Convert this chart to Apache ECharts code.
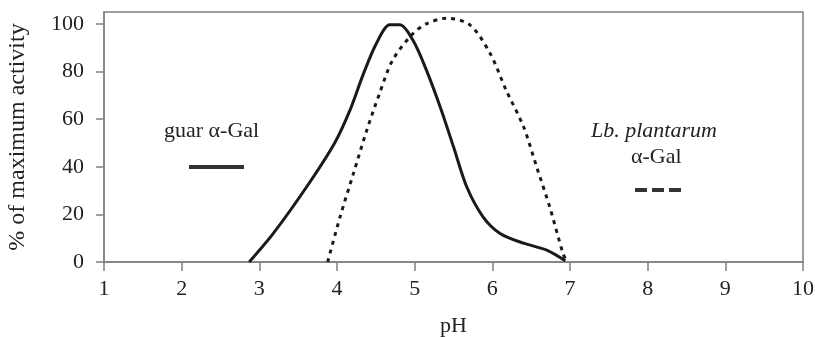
<!DOCTYPE html>
<html><head><meta charset="utf-8">
<script src="https://cdn.jsdelivr.net/npm/echarts@6/dist/echarts.min.js"></script>
<style>html,body{margin:0;padding:0;background:#fff}#c{width:815px;height:337px}</style>
</head><body><div id="c"></div>
<script>
const xTicks = [1,2,3,4,5,6,7,8,9,10];
const yTicks = [0,20,40,60,80,100];
const guarSeries = [[2.87,0],[3.18,12],[3.61,31.6],[3.97,50],[4.17,64],[4.34,79],[4.51,92],[4.68,99.6],[4.81,99.6],[4.98,93],[5.15,80.7],[5.33,65],[5.50,48.4],[5.67,31.6],[5.88,19],[6.10,12],[6.40,7.9],[6.70,5],[6.94,0.5]];
const lbSeries = [[3.88,0],[4.04,19],[4.21,37],[4.38,55],[4.55,71],[4.72,85],[4.98,96],[5.15,100],[5.41,102.4],[5.71,99.6],[5.97,87.7],[6.18,72],[6.40,57],[6.57,40],[6.74,23],[6.91,3.6],[6.96,0]];

const chart = echarts.init(document.getElementById('c'));
const font = 'Liberation Serif';
const axisGray = '#808080';
chart.setOption({
  animation:false,
  textStyle:{fontFamily:font},
  grid:{left:104,right:12,top:12,bottom:75,show:true,borderColor:axisGray,borderWidth:1.5,outerBoundsMode:'none',containLabel:false},
  xAxis:{type:'value',min:1,max:10,interval:1,
    name:'pH',nameLocation:'middle',nameGap:53,nameTextStyle:{fontFamily:font,fontSize:22,color:'#222'},
    axisLine:{lineStyle:{color:axisGray,width:1.5}},
    axisTick:{length:9,lineStyle:{color:axisGray,width:1.5}},
    axisLabel:{fontFamily:font,fontSize:22,color:'#222',margin:16},
    splitLine:{show:false}},
  yAxis:{type:'value',min:0,max:105,interval:20,
    name:'% of maximum activity',nameLocation:'middle',nameGap:74,nameTextStyle:{fontFamily:font,fontSize:24,color:'#222'},
    axisLine:{show:true,lineStyle:{color:axisGray,width:1.5}},
    axisTick:{show:true,length:8,customValues:yTicks,lineStyle:{color:axisGray,width:1.5}},
    axisLabel:{fontFamily:font,fontSize:22,color:'#222',margin:20,customValues:yTicks},
    splitLine:{show:false}},
  series:[
    {name:'guar',type:'line',data:guarSeries,smooth:0.3,symbol:'none',lineStyle:{color:'#1a1a1a',width:3}},
    {name:'lb',type:'line',data:lbSeries,smooth:0.3,symbol:'none',lineStyle:{color:'#1a1a1a',width:3,type:[4,5]}}
  ],
  graphic:[
    {type:'text',left:164,top:120,style:{text:'guar α-Gal',font:'22px "Liberation Serif"',fill:'#222'}},
    {type:'line',shape:{x1:189,y1:167,x2:244,y2:167},style:{stroke:'#333',lineWidth:4}},
    {type:'text',left:591,top:120,style:{text:'Lb. plantarum',font:'italic 22px "Liberation Serif"',fill:'#222'}},
    {type:'text',left:631,top:146,style:{text:'α-Gal',font:'22px "Liberation Serif"',fill:'#222'}},
    {type:'line',shape:{x1:635,y1:190,x2:683,y2:190},style:{stroke:'#333',lineWidth:4,lineDash:[12,5]}}
  ]
});
</script></body></html>
